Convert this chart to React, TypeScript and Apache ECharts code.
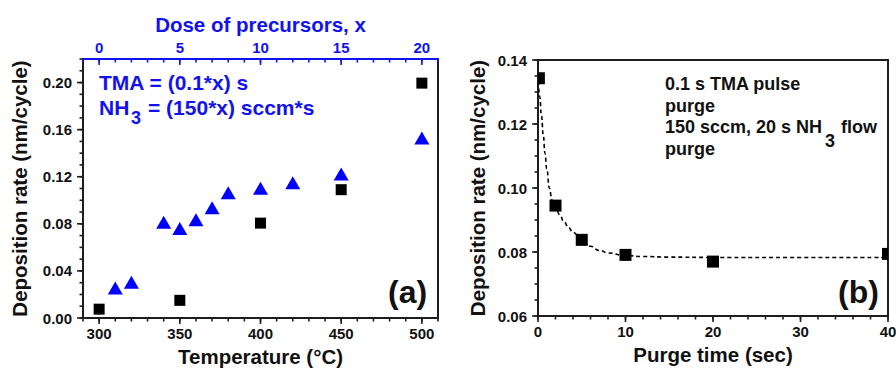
import React, { useEffect, useRef } from 'react';
import * as echarts from 'echarts';

// ---- data ----
const temperatureC = [300, 350, 400, 450, 500];
const rateVsTemperature = [0.0075, 0.015, 0.0806, 0.109, 0.1995];

const precursorDose = [1, 2, 4, 5, 6, 7, 8, 10, 12, 15, 20];
const rateVsDose = [0.0254, 0.0304, 0.0814, 0.0761, 0.0835, 0.0936, 0.1063, 0.1102, 0.1148, 0.1224, 0.1528];

const purgeTime = [0.1, 2, 5, 10, 20, 40];
const rateVsPurge = [0.1343, 0.0945, 0.0838, 0.0791, 0.077, 0.0794];

// dashed fit curve
const fitTime = [0, 0.2, 0.4, 0.6, 0.8, 1.0, 1.3, 1.6, 2.0, 2.5, 3.0, 3.5, 4.0, 5.0, 6.0, 7.0, 8.0, 10, 12, 15, 20, 30, 40];
const fitRate = [0.1355, 0.1285, 0.1225, 0.1165, 0.1108, 0.106, 0.1, 0.0962, 0.0942, 0.0915, 0.0893, 0.0876, 0.0861, 0.0838, 0.0818, 0.0805, 0.0797, 0.0789, 0.0786, 0.0784, 0.0783, 0.0783, 0.0783];

// ---- axis ticks (major = labelled) ----
const temperatureTicks = [300, 350, 400, 450, 500];
const doseTicks = [0, 5, 10, 15, 20];
const rateTicks = [0, 0.04, 0.08, 0.12, 0.16, 0.2];
const purgeTimeTicks = [0, 10, 20, 30, 40];
const purgeRateTicks = [0.06, 0.08, 0.1, 0.12, 0.14];

const FONT = '"Liberation Sans", Arial, Helvetica, sans-serif';
const BLUE = '#1212ee';
const INK = '#111111';
const AXIS = '#1e1e1e';

// minor tick positions between lo and hi with a fixed step
function steps(lo: number, hi: number, step: number): number[] {
  const out: number[] = [];
  const n = Math.round((hi - lo) / step);
  for (let i = 0; i <= n; i++) out.push(+(lo + i * step).toFixed(6));
  return out;
}

export default function App() {
  const ref = useRef<HTMLDivElement>(null);

  useEffect(() => {
    if (!ref.current) return;
    const chart = echarts.init(ref.current, null, { renderer: 'svg' });

    const lbl = (color: string, margin: number) => ({
      color, fontSize: 15, fontWeight: 'bold', fontFamily: FONT, margin,
    });
    const nameStyle = (color: string) => ({ color, fontSize: 20.5, fontWeight: 'bold', fontFamily: FONT });
    const line = (color: string) => ({ show: true, onZero: false, lineStyle: { color, width: 2 } });
    const borderAxis = (base: any) => ({
      type: 'value', ...base,
      axisLine: line(AXIS),
      axisTick: { show: false },
      axisLabel: { show: false },
      splitLine: { show: false },
    });
    const fix2 = (v: number) => v.toFixed(2);

    // tick marks drawn as thin rects through the axes' own scales.
    // kind 'x': tick at x = value, anchored at y = anchor, extending len px (positive = down)
    // kind 'y': tick at y = value, anchored at x = anchor, extending len px (negative = left)
    const TW = 1.6;
    const tickSeries = (
      kind: 'x' | 'y', xi: number, yi: number, values: number[], anchor: number,
      len: number, color: string,
    ) => ({
      type: 'custom', xAxisIndex: xi, yAxisIndex: yi, clip: false, silent: true, z: 6,
      encode: { x: 0, y: 1 },
      data: values.map((v) => (kind === 'x' ? [v, anchor] : [anchor, v])),
      renderItem: (_p: any, api: any) => {
        const p = api.coord([api.value(0), api.value(1)]);
        const shape = kind === 'x'
          ? { x: p[0] - TW / 2, y: Math.min(p[1], p[1] + len), width: TW, height: Math.abs(len) }
          : { x: Math.min(p[0], p[0] + len), y: p[1] - TW / 2, width: Math.abs(len), height: TW };
        return { type: 'rect', shape, style: { fill: color } };
      },
    });

    const txt = (text: string, x: number, y: number, size: number, color: string, align = 'left') => ({
      type: 'text', x, y, z: 10,
      style: {
        text, fill: color, fontSize: size, fontWeight: 'bold', fontFamily: FONT,
        align, textAlign: align, verticalAlign: 'middle', textVerticalAlign: 'middle',
      },
    });

    const option: any = {
      animation: false,
      backgroundColor: '#ffffff',
      grid: [
        { left: 83, top: 59, width: 355, height: 259, containLabel: false, outerBoundsMode: 'none' },
        { left: 538, top: 60, width: 350, height: 256, containLabel: false, outerBoundsMode: 'none' },
      ],
      xAxis: [
        // 0: temperature (bottom, left panel)
        {
          type: 'value', gridIndex: 0, position: 'bottom', min: 290, max: 510, splitNumber: 4,
          name: 'Temperature (°C)', nameLocation: 'middle', nameGap: 28, nameTextStyle: nameStyle(INK),
          axisLine: line(AXIS), axisTick: { show: false },
          axisLabel: { ...lbl(INK, 8), showMinLabel: false, showMaxLabel: false },
          splitLine: { show: false },
        },
        // 1: dose (top, left panel)
        {
          type: 'value', gridIndex: 0, position: 'top', min: -1, max: 21, splitNumber: 4,
          name: 'Dose of precursors, x', nameLocation: 'middle', nameGap: 23, nameTextStyle: nameStyle(BLUE),
          axisLine: line(BLUE), axisTick: { show: false },
          axisLabel: { ...lbl(BLUE, 4.5), showMinLabel: false, showMaxLabel: false },
          splitLine: { show: false },
        },
        // 2: purge time (bottom, right panel)
        {
          type: 'value', gridIndex: 1, position: 'bottom', min: 0, max: 40, interval: 10,
          name: 'Purge time (sec)', nameLocation: 'middle', nameGap: 28, nameTextStyle: nameStyle(INK),
          axisLine: line(AXIS), axisTick: { show: false },
          axisLabel: lbl(INK, 8),
          splitLine: { show: false },
        },
        // 3: top border right panel
        borderAxis({ gridIndex: 1, position: 'top', min: 0, max: 40 }),
      ],
      yAxis: [
        // 0: rate, left panel
        {
          type: 'value', gridIndex: 0, position: 'left', min: 0, max: 0.22, interval: 0.04,
          name: 'Deposition rate (nm/cycle)', nameLocation: 'middle', nameGap: 53.5, nameTextStyle: nameStyle(INK),
          axisLine: line(AXIS), axisTick: { show: false },
          axisLabel: { ...lbl(INK, 11), formatter: fix2, showMaxLabel: false },
          splitLine: { show: false },
        },
        // 1: right border left panel
        borderAxis({ gridIndex: 0, position: 'right', min: 0, max: 0.22 }),
        // 2: rate, right panel
        {
          type: 'value', gridIndex: 1, position: 'left', min: 0.06, max: 0.14, interval: 0.02,
          name: 'Deposition rate (nm/cycle)', nameLocation: 'middle', nameGap: 50.5, nameTextStyle: nameStyle(INK),
          axisLine: line(AXIS), axisTick: { show: false },
          axisLabel: { ...lbl(INK, 11), formatter: fix2 },
          splitLine: { show: false },
        },
        // 3: right border right panel
        borderAxis({ gridIndex: 1, position: 'right', min: 0.06, max: 0.14 }),
      ],
      series: [
        {
          type: 'scatter', xAxisIndex: 0, yAxisIndex: 0,
          data: temperatureC.map((t, i) => [t, rateVsTemperature[i]]),
          symbol: 'rect', symbolSize: 11, itemStyle: { color: '#000000', opacity: 1 }, z: 3,
        },
        {
          type: 'scatter', xAxisIndex: 1, yAxisIndex: 0,
          data: precursorDose.map((d, i) => [d, rateVsDose[i]]),
          symbol: 'triangle', symbolSize: [15, 13], itemStyle: { color: '#0000ff', opacity: 1 }, z: 3,
        },
        {
          type: 'line', xAxisIndex: 2, yAxisIndex: 2,
          data: fitTime.map((t, i) => [t, fitRate[i]]),
          showSymbol: false, symbol: 'none', smooth: true, smoothMonotone: 'x', clip: true,
          lineStyle: { color: '#000000', width: 1.6, type: [4, 3] }, z: 2,
        },
        {
          type: 'custom', xAxisIndex: 2, yAxisIndex: 2, clip: true, z: 3,
          encode: { x: 0, y: 1 },
          data: purgeTime.map((t, i) => [t, rateVsPurge[i]]),
          renderItem: (_params: any, api: any) => {
            const p = api.coord([api.value(0), api.value(1)]);
            return {
              type: 'rect',
              shape: { x: p[0] - 6, y: p[1] - 6, width: 12, height: 12 },
              style: { fill: '#000000' },
            };
          },
        },
        // ---- ticks, left panel ----
        tickSeries('x', 0, 0, temperatureTicks, 0, 6, AXIS),
        tickSeries('x', 0, 0, steps(290, 510, 10), 0, 3.5, AXIS),
        tickSeries('x', 1, 0, doseTicks, 0.22, 6, BLUE),
        tickSeries('x', 1, 0, steps(-1, 21, 1), 0.22, 3.5, BLUE),
        tickSeries('y', 0, 0, rateTicks, 290, -6, AXIS),
        tickSeries('y', 0, 0, steps(0, 0.22, 0.01), 290, -3.5, AXIS),
        // ---- ticks, right panel ----
        tickSeries('x', 2, 2, purgeTimeTicks, 0.06, 6, AXIS),
        tickSeries('x', 2, 2, steps(0, 40, 2), 0.06, 3.5, AXIS),
        tickSeries('y', 2, 2, purgeRateTicks, 0, -6, AXIS),
        tickSeries('y', 2, 2, steps(0.06, 0.14, 0.005), 0, -3.5, AXIS),
      ],
      graphic: [
        txt('TMA = (0.1*x) s', 99, 82, 21, BLUE),
        txt('NH', 99, 107, 21, BLUE),
        txt('3', 131, 118, 18, BLUE),
        txt('= (150*x) sccm*s', 148, 107, 21, BLUE),
        txt('(a)', 388, 292, 32, INK),
        txt('0.1 s TMA pulse', 665, 84, 18, INK),
        txt('purge', 665, 105.5, 18, INK),
        txt('150 sccm, 20 s NH', 665, 127, 18, INK),
        txt('3', 825, 141, 18, INK),
        txt('flow', 841, 127, 18, INK),
        txt('purge', 665, 149, 18, INK),
        txt('(b)', 838, 292, 32, INK),
      ],
    };

    chart.setOption(option);
    return () => chart.dispose();
  }, []);

  return <div ref={ref} style={{ position: 'fixed', left: 0, top: 0, width: 896, height: 368 }} />;
}
